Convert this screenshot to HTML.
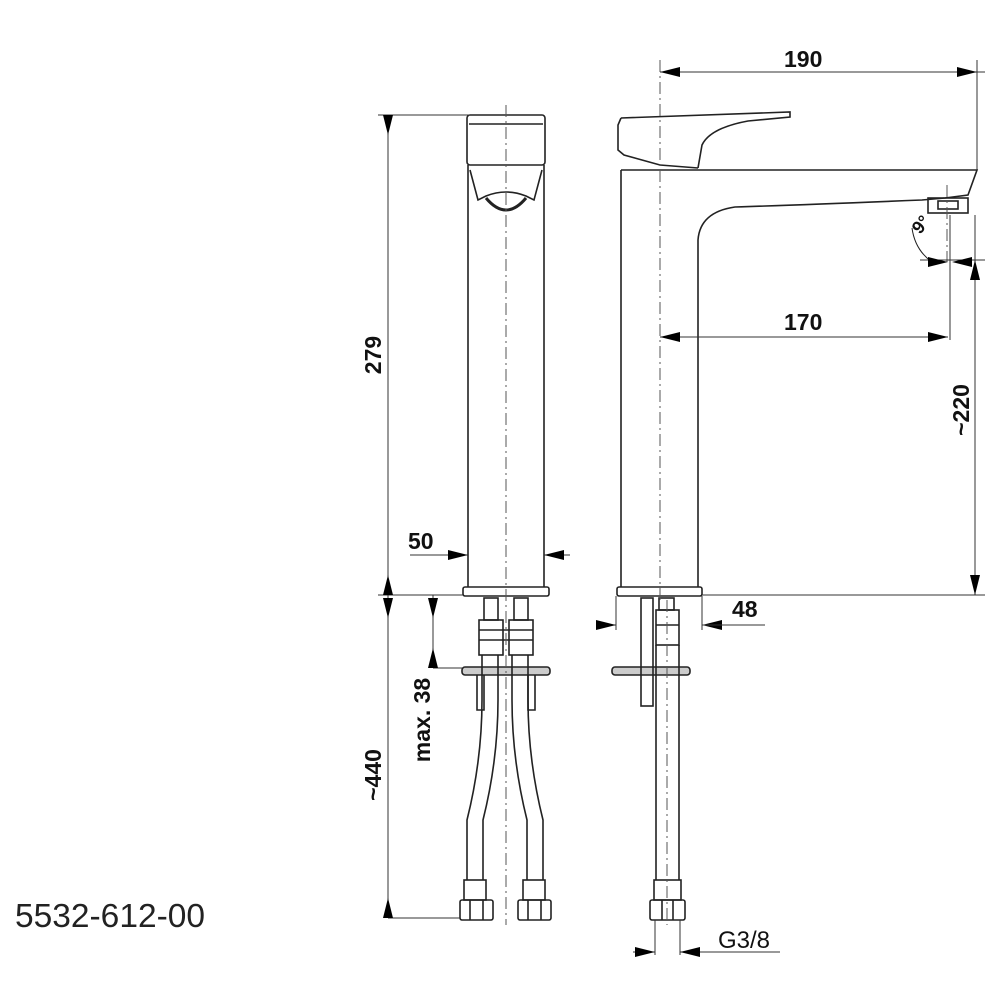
<!DOCTYPE html>
<html><head><style>body{margin:0;background:#fff}svg{display:block}</style></head><body>
<svg width="1000" height="1000" viewBox="0 0 1000 1000" xmlns="http://www.w3.org/2000/svg" font-family="Liberation Sans, sans-serif">
<defs>
<marker id="a" viewBox="0 0 20 10" refX="20" refY="5" markerWidth="20" markerHeight="10" markerUnits="userSpaceOnUse" orient="auto"><path d="M0,0 L20,5 L0,10z" fill="#000"/></marker>
</defs>
<g stroke="#222" stroke-width="1.6" fill="none">
<rect x="467" y="115" width="78" height="50" rx="3"/>
<line x1="469" y1="124" x2="543" y2="124"/>
<path d="M468,165 L468,587 M544,165 L544,587"/>
<path d="M470,170 L478,200 L486,196 Q506,188 526,196 L534,200 L542,170"/>
<path d="M486,198 Q506,222 526,198" stroke-width="3"/>
<rect x="463" y="587" width="86" height="9" rx="2"/>
<rect x="484" y="598" width="14" height="22"/>
<rect x="514" y="598" width="14" height="22"/>
<rect x="479" y="620" width="24" height="35"/>
<rect x="509" y="620" width="24" height="35"/>
<line x1="479" y1="630" x2="533" y2="630"/>
<line x1="479" y1="640" x2="533" y2="640"/>
<rect x="462" y="667" width="88" height="8" rx="3" fill="#ccc"/>
<path d="M477,675 L477,710 L484,710 L484,675 M528,675 L528,710 L535,710 L535,675"/>
<path d="M482,655 L482,700 Q482,760 467,820 L467,880 M498,655 L498,700 Q498,760 483,820 L483,880"/>
<path d="M512,655 L512,700 Q512,760 527,820 L527,880 M528,655 L528,700 Q528,760 543,820 L543,880"/>
<rect x="464" y="880" width="22" height="20"/>
<rect x="523" y="880" width="22" height="20"/>
<rect x="460" y="900" width="33" height="20" rx="2"/>
<rect x="518" y="900" width="33" height="20" rx="2"/>
<line x1="470" y1="900" x2="470" y2="920"/><line x1="483" y1="900" x2="483" y2="920"/>
<line x1="528" y1="900" x2="528" y2="920"/><line x1="541" y1="900" x2="541" y2="920"/>
<path d="M621,118 L790,112 L790,117 L748,121 Q710,128 702,145 L698,168"/>
<path d="M621,118 L618,125 L618,150 L624,155 L660,165 L698,168"/>
<path d="M621,170 L977,170 L968,195 L945,198 L922,200 Q800,205 735,207 Q700,212 698,240 L698,587"/>
<path d="M621,170 L621,587"/>
<rect x="928" y="198" width="40" height="15"/>
<rect x="938" y="201" width="20" height="8"/>
<rect x="617" y="587" width="85" height="9" rx="2"/>
<rect x="659" y="598" width="15" height="12"/>
<rect x="656" y="610" width="23" height="35"/>
<line x1="656" y1="625" x2="679" y2="625"/>
<rect x="612" y="667" width="78" height="8" rx="3" fill="#ccc"/>
<rect x="641" y="598" width="12" height="108"/>
<path d="M656,645 L656,880 M679,645 L679,880"/>
<rect x="654" y="880" width="27" height="20"/>
<rect x="650" y="900" width="35" height="20" rx="2"/>
<line x1="662" y1="900" x2="662" y2="920"/><line x1="673" y1="900" x2="673" y2="920"/>
<path d="M912,228 Q915,250 932,262" stroke-width="1"/>
</g>
<g stroke="#555" stroke-width="1" stroke-dasharray="12,4,2,4" fill="none">
<line x1="506" y1="105" x2="506" y2="925"/>
<line x1="660" y1="60" x2="660" y2="600"/>
<line x1="667" y1="600" x2="667" y2="925"/>
<line x1="947" y1="185" x2="947" y2="262"/>
</g>
<g stroke="#333" stroke-width="1" fill="none">
<line x1="378" y1="115" x2="470" y2="115"/>
<line x1="378" y1="595" x2="463" y2="595"/>
<line x1="388" y1="115" x2="388" y2="918"/>
<line x1="388" y1="918" x2="460" y2="918"/>
<line x1="433" y1="595" x2="433" y2="668"/>
<line x1="433" y1="668" x2="462" y2="668"/>
<line x1="410" y1="555" x2="468" y2="555" marker-end="url(#a)"/>
<line x1="570" y1="555" x2="544" y2="555" marker-end="url(#a)"/>
<line x1="660" y1="72" x2="985" y2="72"/>
<line x1="680" y1="72" x2="660" y2="72" marker-end="url(#a)"/>
<line x1="955" y1="72" x2="977" y2="72" marker-end="url(#a)"/>
<line x1="977" y1="60" x2="977" y2="170"/>
<line x1="660" y1="337" x2="948" y2="337"/>
<line x1="680" y1="337" x2="660" y2="337" marker-end="url(#a)"/>
<line x1="928" y1="337" x2="948" y2="337" marker-end="url(#a)"/>
<line x1="950" y1="215" x2="950" y2="340"/>
<line x1="975" y1="215" x2="975" y2="595"/>
<line x1="920" y1="260" x2="985" y2="260"/>
<line x1="702" y1="595" x2="985" y2="595"/>
<line x1="598" y1="625" x2="616" y2="625" marker-end="url(#a)"/>
<line x1="720" y1="625" x2="702" y2="625" marker-end="url(#a)"/>
<line x1="702" y1="625" x2="765" y2="625"/>
<line x1="616" y1="596" x2="616" y2="630"/>
<line x1="702" y1="596" x2="702" y2="630"/>
<line x1="655" y1="920" x2="655" y2="955"/>
<line x1="680" y1="920" x2="680" y2="955"/>
<line x1="633" y1="952" x2="655" y2="952" marker-end="url(#a)"/>
<line x1="700" y1="952" x2="680" y2="952" marker-end="url(#a)"/>
<line x1="700" y1="952" x2="780" y2="952"/>
</g>
<g fill="#000">
<path d="M383,115 L393,115 L388,135z"/>
<path d="M383,595 L393,595 L388,575z"/>
<path d="M383,598 L393,598 L388,618z"/>
<path d="M383,918 L393,918 L388,898z"/>
<path d="M428,598 L438,598 L433,618z"/>
<path d="M428,668 L438,668 L433,648z"/>
<path d="M970,280 L980,280 L975,260z"/>
<path d="M970,575 L980,575 L975,595z"/>
<path d="M928,257 L948,262 L928,267z"/>
<path d="M972,257 L952,262 L972,267z"/>
</g>
<g font-size="23" font-weight="bold" fill="#111">
<text x="784" y="67">190</text>
<text x="784" y="330">170</text>
<text x="732" y="617">48</text>
<text x="408" y="549">50</text>
<text x="718" y="948" font-size="24" font-weight="normal">G3/8</text>
<text transform="translate(381,355) rotate(-90)" text-anchor="middle">279</text>
<text transform="translate(381,775) rotate(-90)" text-anchor="middle">~440</text>
<text transform="translate(430,720) rotate(-90)" text-anchor="middle">max. 38</text>
<text transform="translate(969,410) rotate(-90)" text-anchor="middle">~220</text>
<text transform="translate(920,235) rotate(-50)" font-size="18">9°</text>
</g>
<text x="15" y="927" font-size="33" fill="#222" textLength="190" lengthAdjust="spacingAndGlyphs">5532-612-00</text>
</svg>
</body></html>
